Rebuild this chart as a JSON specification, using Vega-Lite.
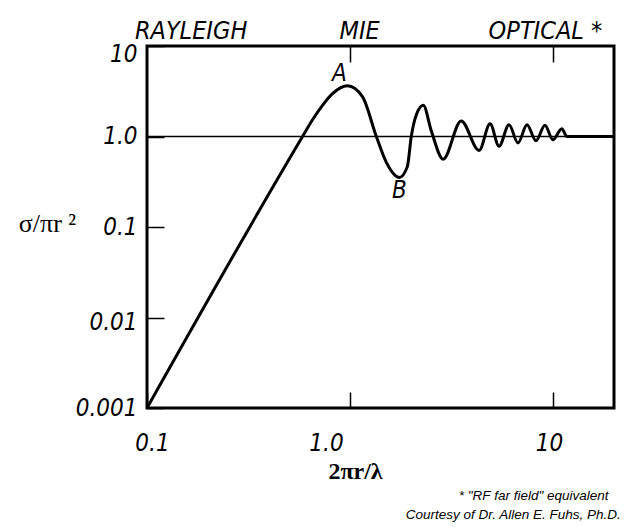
{
  "$schema": "https://vega.github.io/schema/vega-lite/v6.json",
  "width": 467,
  "height": 362,
  "autosize": "none",
  "padding": {"left": 147, "top": 46, "right": 12, "bottom": 119},
  "background": "white",
  "config": {
    "view": {"stroke": "black", "strokeWidth": 3},
    "axis": {"domain": false, "grid": false, "tickColor": "black", "labelColor": "black", "titleColor": "black", "labelFlush": false}
  },
  "title": {
    "text": "Courtesy of Dr. Allen E. Fuhs, Ph.D.",
    "orient": "bottom",
    "anchor": "end",
    "font": "Liberation Sans",
    "fontSize": 13.5,
    "fontStyle": "italic",
    "fontWeight": "normal",
    "color": "black",
    "offset": 6,
    "dx": 6
  },
  "datasets": {
    "curve": [
      {"x": 0.1, "y": 0.001},
      {"x": 0.584, "y": 1.0},
      {"x": 0.654, "y": 1.53},
      {"x": 0.7325, "y": 2.21},
      {"x": 0.82, "y": 2.97},
      {"x": 0.972, "y": 3.63},
      {"x": 1.152, "y": 2.76},
      {"x": 1.349, "y": 1.0},
      {"x": 1.511, "y": 0.518},
      {"x": 1.751, "y": 0.353},
      {"x": 1.917, "y": 0.464},
      {"x": 2.005, "y": 1.0},
      {"x": 2.122, "y": 1.725},
      {"x": 2.297, "y": 2.21},
      {"x": 2.515, "y": 1.16},
      {"x": 2.881, "y": 0.562},
      {"x": 3.531, "y": 1.486},
      {"x": 4.33, "y": 0.7},
      {"x": 4.901, "y": 1.379},
      {"x": 5.428, "y": 0.781},
      {"x": 6.078, "y": 1.346},
      {"x": 6.73, "y": 0.848},
      {"x": 7.451, "y": 1.346},
      {"x": 8.254, "y": 0.896},
      {"x": 9.135, "y": 1.33},
      {"x": 10.0, "y": 0.921},
      {"x": 11.07, "y": 1.219},
      {"x": 11.72, "y": 1.0},
      {"x": 20, "y": 1.0}
    ],
    "refline": [{"y": 1}],
    "marks": [
      {"x": 0.888, "y": 4.88, "t": "A"},
      {"x": 1.751, "y": 0.247, "t": "B"}
    ]
  },
  "layer": [
    {
      "data": {"name": "refline"},
      "mark": {"type": "rule", "color": "black", "strokeWidth": 1.5},
      "encoding": {
        "y": {"field": "y", "type": "quantitative", "scale": {"type": "log", "domain": [0.001, 10], "nice": false}, "axis": null}
      }
    },
    {
      "data": {"name": "curve"},
      "mark": {"type": "line", "interpolate": "monotone", "color": "black", "strokeWidth": 3, "clip": true},
      "encoding": {
        "x": {
          "field": "x", "type": "quantitative",
          "scale": {"type": "log", "domain": [0.1, 20], "nice": false},
          "axis": {
            "orient": "bottom",
            "values": [0.1, 1, 10],
            "labelExpr": "datum.value == 1 ? '1.0' : datum.value == 10 ? '10' : '0.1'",
            "offset": -16,
            "tickSize": 16,
            "tickWidth": 1.5,
            "labelFont": "Liberation Sans Narrow, DejaVu Sans Condensed, sans-serif",
            "labelFontSize": 24,
            "labelFontStyle": "italic",
            "labelPadding": 23,
            "labelOffset": {"condition": [{"test": "datum.value == 1", "value": -24}, {"test": "datum.value == 10", "value": -4}], "value": 5},
            "title": "2πr/λ",
            "titleFont": "Liberation Serif",
            "titleFontSize": 24,
            "titleFontWeight": "bold",
            "titleX": 208,
            "titleY": 79,
            "titleAlign": "center",
            "titleBaseline": "middle"
          }
        },
        "y": {
          "field": "y", "type": "quantitative",
          "scale": {"type": "log", "domain": [0.001, 10], "nice": false},
          "axis": {
            "values": [0.001, 0.01, 0.1, 1, 10],
            "labelExpr": "datum.value == 10 ? '10' : datum.value == 1 ? '1.0' : datum.value == 0.1 ? '0.1' : datum.value == 0.01 ? '0.01' : '0.001'",
            "offset": -17,
            "tickSize": 17,
            "tickWidth": 1.5,
            "labelFont": "Liberation Sans Narrow, DejaVu Sans Condensed, sans-serif",
            "labelFontSize": 24,
            "labelFontStyle": "italic",
            "labelPadding": 10,
            "labelOffset": {"condition": [{"test": "datum.value == 10", "value": 8}, {"test": "datum.value == 0.01", "value": 5}], "value": 0},
            "title": "σ/πr ²",
            "titleFont": "Liberation Serif",
            "titleFontSize": 26,
            "titleFontWeight": "normal",
            "titleAngle": 0,
            "titleX": -117,
            "titleY": 177,
            "titleAlign": "center",
            "titleBaseline": "middle"
          }
        }
      }
    },
    {
      "data": {"name": "marks"},
      "mark": {"type": "text", "font": "Liberation Sans Narrow, DejaVu Sans Condensed, sans-serif", "fontSize": 24, "fontStyle": "italic", "color": "black"},
      "encoding": {
        "x": {
          "field": "x", "type": "quantitative",
          "scale": {"type": "log", "domain": [0.1, 20], "nice": false},
          "axis": {
            "orient": "top",
            "values": [0.164, 1, 1.11, 9.135, 10],
            "labelExpr": "datum.value < 0.2 ? 'RAYLEIGH' : (datum.value > 1.05 && datum.value < 1.2) ? 'MIE' : (datum.value > 9 && datum.value < 9.5) ? 'OPTICAL *' : ''",
            "offset": -16,
            "tickSize": 16,
            "tickWidth": 1.5,
            "tickOpacity": {"condition": {"test": "datum.value == 1 || datum.value == 10", "value": 1}, "value": 0},
            "labelFont": "Liberation Sans Narrow, DejaVu Sans Condensed, sans-serif",
            "labelFontSize": 25,
            "labelFontStyle": "italic",
            "labelPadding": 8,
            "labelBaseline": "alphabetic",
            "title": "* \"RF far field\" equivalent",
            "titleFont": "Liberation Sans",
            "titleFontSize": 13.5,
            "titleFontStyle": "italic",
            "titleFontWeight": "normal",
            "titleX": 461,
            "titleY": 433,
            "titleAlign": "right",
            "titleBaseline": "middle",
            "titleAngle": 0
          }
        },
        "y": {"field": "y", "type": "quantitative", "scale": {"type": "log", "domain": [0.001, 10], "nice": false}, "axis": null},
        "text": {"field": "t", "type": "nominal"}
      }
    }
  ],
  "resolve": {"axis": {"x": "independent", "y": "independent"}}
}
